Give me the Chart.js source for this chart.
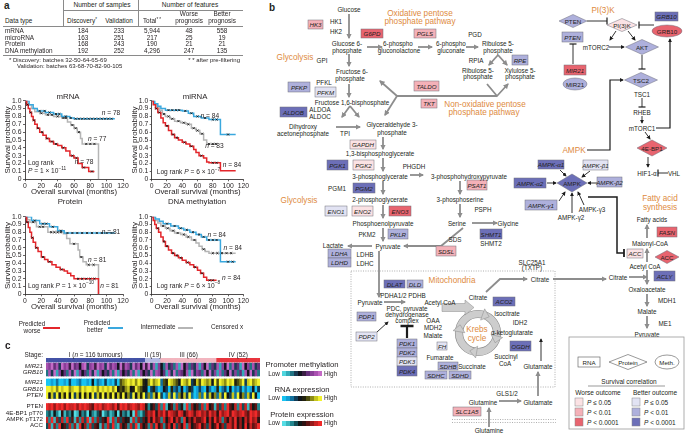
<!DOCTYPE html>
<html>
<head>
<meta charset="utf-8">
<script src="https://cdn.jsdelivr.net/npm/chart.js@4.4.1/dist/chart.umd.min.js"></script>
<style>
  html, body { margin: 0; padding: 0; background: #fff; }
  #page { position: relative; width: 685px; height: 433px; overflow: hidden; font-family: "Liberation Sans", Arial, sans-serif; color: #231f20; }
  .t { position: absolute; white-space: nowrap; line-height: 1; font-size: 6.4px; transform: translate(-50%, -50%); }
  .t.l { transform: translate(0, -50%); }
  .t.r { transform: translate(-100%, -50%); }
  .ln { position: absolute; background: #8a8a8a; }
  canvas { position: absolute; }
  sup { font-size: 70%; vertical-align: 0; position: relative; top: -0.45em; }
</style>
</head>
<body>
<div id="page">
  <svg id="path" width="685" height="433" style="position:absolute;left:0;top:0;font-family:'Liberation Sans',Arial,sans-serif"></svg>
  <canvas id="km-mrna" width="132" height="103" style="left:0;top:94px"></canvas>
  <canvas id="km-mirna" width="123" height="103" style="left:127px;top:94px"></canvas>
  <canvas id="km-protein" width="132" height="102" style="left:0;top:210px"></canvas>
  <canvas id="km-meth" width="123" height="102" style="left:127px;top:210px"></canvas>
  <canvas id="heat" width="214" height="71" style="left:46px;top:358px"></canvas>
</div>
<script>
// ═══════════════════════════════════════════════
// Panel a — sample / feature table
// ═══════════════════════════════════════════════
const dataTypes      = ['mRNA', 'microRNA', 'Protein', 'DNA methylation'];
const discovery      = [184, 163, 168, 192];
const validation     = [233, 251, 243, 252];
const totalFeatures  = ['5,944', '217', '190', '4,296'];
const worseFeatures  = [48, 25, 21, 247];
const betterFeatures = [558, 19, 21, 135];

// ═══════════════════════════════════════════════
// Panel a — Kaplan–Meier curves: [months, survival]
// ═══════════════════════════════════════════════
const mrnaWorse  = [[0,1],[2,.95],[4,.9],[6,.85],[8,.8],[10,.75],[12,.7],[15,.65],[18,.6],[22,.56],[26,.52],[30,.48],[35,.45],[40,.43],[45,.4],[50,.36],[55,.3],[60,.27],[65,.2],[70,.15],[78,.1],[85,.1]];
const mrnaBetter = [[0,1],[5,.95],[10,.9],[15,.87],[25,.85],[35,.83],[45,.8],[55,.78],[60,.77],[110,.77]];
const mrnaMiddle = [[0,1],[3,.95],[8,.9],[12,.86],[18,.84],[25,.82],[35,.8],[45,.78],[52,.73],[56,.69],[60,.65],[64,.6],[68,.52],[70,.45],[90,0]];
const mrnaWorseCens  = [3,7,11,16,21,27,33,38,47,58,63,72,82];
const mrnaBetterCens = [18,24,30,38,42,50,56,62,66,70,74,78,82,86,90,94,98,102,106];
const mrnaMiddleCens = [20,28,33,40,47,50,58,62,66,75,80,85];

const mirWorse  = [[0,1],[2,.95],[5,.9],[8,.85],[12,.78],[15,.72],[18,.68],[22,.62],[26,.57],[30,.53],[35,.5],[40,.47],[45,.45],[50,.42],[55,.38],[58,.34],[62,.3],[68,.27],[72,.22],[75,.21],[90,.11],[110,.11]];
const mirBetter = [[0,1],[4,.96],[8,.93],[12,.9],[18,.88],[40,.87],[48,.84],[55,.8],[65,.78],[75,.76],[90,.57],[110,.57]];
const mirMiddle = [[0,1],[3,.96],[6,.92],[10,.88],[14,.83],[18,.8],[24,.77],[30,.74],[38,.72],[45,.7],[52,.65],[58,.62],[63,.58],[68,.5],[72,.45],[85,.45]];
const mirWorseCens  = [6,10,20,28,33,43,52,65,80,85];
const mirBetterCens = [22,27,32,36,44,52,60,70,80,85,100];
const mirMiddleCens = [16,22,27,35,42,48,55,60,66,75,80,84];

const protWorse  = [[0,1],[2,.93],[4,.86],[6,.8],[8,.73],[10,.67],[13,.6],[16,.55],[20,.48],[24,.45],[28,.42],[33,.38],[38,.35],[43,.32],[48,.3],[52,.27],[56,.24],[60,.2],[90,0]];
const protBetter = [[0,1],[8,.95],[18,.91],[30,.87],[40,.82],[48,.79],[110,.79]];
const protMiddle = [[0,1],[3,.96],[6,.93],[14,.87],[28,.8],[47,.78],[51,.72],[55,.65],[65,.57],[67,.48],[71,.42],[75,.38],[90,0]];
const protWorseCens  = [3,9,14,22,30,45,65,70,75,80,85];
const protBetterCens = [12,22,26,34,44,52,58,64,70,76,82,88,94,100,106];
const protMiddleCens = [10,18,22,32,36,40,44,60,69,78,84];

const methWorse  = [[0,1],[2,.95],[4,.9],[6,.85],[9,.8],[12,.74],[15,.68],[18,.62],[22,.57],[26,.53],[30,.5],[35,.47],[40,.44],[45,.41],[50,.38],[55,.35],[60,.31],[64,.27],[68,.22],[72,.18],[85,.18]];
const methBetter = [[0,1],[5,.97],[10,.94],[15,.91],[25,.88],[35,.85],[42,.83],[50,.8],[58,.77],[65,.74],[72,.7],[90,.42],[110,.42]];
const methMiddle = [[0,1],[4,.95],[8,.92],[12,.88],[18,.85],[24,.82],[30,.79],[38,.77],[45,.74],[52,.7],[58,.66],[62,.62],[66,.58],[70,.55],[75,.53],[110,.53]];
const methWorseCens  = [8,16,20,28,33,38,47,57,66,76,80];
const methBetterCens = [20,30,38,46,54,62,68,75,80,85,100,106];
const methMiddleCens = [15,21,28,34,42,48,56,68,80,86,92,98,104];

const xTicks = [0, 20, 40, 60, 80, 100, 120];

// ═══════════════════════════════════════════════
// Panel c — heatmap (values 0-9, one column ≈ 3 tumours)
// ═══════════════════════════════════════════════
const stageNames  = ['I (<i>n</i> = 116 tumours)', 'II (19)', 'III (66)', 'IV (52)'];
const stageCounts = [116, 19, 66, 52];
const methMIR21 = '879683978596 748937859783 968749587396 849593817428 362819472638 174926381749 283619472836';
const methGRB10 = '283917462839 174628391746 382917463829 174639287461 839276481937 628493718264 937261849372';
const rnaMIR21  = '001020010300 120010402103 010306789897 985479789265 987649879358 698784969879 895679389789';
const rnaGRB10  = '998979899789 979899897989 897946578459 764403520143 052314025301 310420150230 402130201403';
const rnaPTEN   = '948394859493 849584938594 859485947394 859372849302 839274839201 729384728394 382947283940';
const protPTEN  = '989798979889 798987698978 987969897898 798524638291 462835192746 382946173829 648293817462';
const prot4EBP1 = '231420513240 152304213502 312405231408 213687958796 987698579868 978697859789 698789769897';
const protAMPK  = '829173829361 728391827364 918273645182 736485967284 795862947586 679485968275 869574869785';
const protACC   = '381729463827 194728365172 839217462839 174628395726 849375928467 957384695738 869574958679';

const methRamp = ['#4fd6de','#32aab8','#217484','#1b3a52','#121420','#3a1f44','#65307a','#8a3f98','#a951b0','#c46ac6'];
const rnaRamp  = ['#17c4f2','#139ed4','#12709c','#123e58','#11161c','#22220e','#4e4e10','#8c8c16','#c6c61e','#f2f22e'];
const protRamp = ['#55dde5','#3ab6be','#22868e','#134e56','#111818','#2e1212','#5e1414','#971a1a','#c92222','#f02a2a'];
const stageColors = ['#4352a6', '#b3b9e2', '#f2b5bf', '#e8343d'];

// ═══════════════════════════════════════════════
// helpers
// ═══════════════════════════════════════════════
const page = document.getElementById('page');
function txt(x, y, html, cls, css) {
  const d = document.createElement('div');
  d.className = 't ' + (cls || '');
  d.style.left = x + 'px'; d.style.top = y + 'px';
  if (css) d.style.cssText += css;
  d.innerHTML = html;
  page.appendChild(d);
}
function hline(x1, x2, y, c) { const d = document.createElement('div'); d.className = 'ln'; d.style.cssText = `left:${x1}px;top:${y}px;width:${x2 - x1}px;height:0.7px;background:${c || '#8a8a8a'}`; page.appendChild(d); }
function vline(x, y1, y2) { const d = document.createElement('div'); d.className = 'ln'; d.style.cssText = `left:${x}px;top:${y1}px;width:0.7px;height:${y2 - y1}px`; page.appendChild(d); }

// ---------- panel a table ----------
txt(4, 6, 'a', 'l', 'font-size:10px;font-weight:bold');
txt(102, 5, 'Number of samples', '', 'font-size:6.6px');
txt(190, 5, 'Number of features', '', 'font-size:6.6px');
vline(63, 0, 26); vline(138, 0, 26);
hline(63, 243, 9.5);
txt(5, 21, 'Data type', 'l');
txt(82, 21, 'Discovery<sup>*</sup>');
txt(119, 21, 'Validation');
txt(152, 21, 'Total<sup>* *</sup>');
txt(189, 14, 'Worse'); txt(189, 21, 'prognosis');
txt(222, 14, 'Better'); txt(222, 21, 'prognosis');
hline(3, 243, 26);
const rowY = [30.7, 37.7, 44.3, 51];
dataTypes.forEach((d, i) => {
  txt(5, rowY[i], d, 'l');
  txt(83, rowY[i], discovery[i]);
  txt(119, rowY[i], validation[i]);
  txt(152, rowY[i], totalFeatures[i]);
  txt(189, rowY[i], worseFeatures[i]);
  txt(222, rowY[i], betterFeatures[i]);
});
hline(3, 243, 54.5);
txt(9, 59.5, '* Discovery: batches 32-50-64-65-69', 'l', 'font-size:6px');
txt(17, 66, 'Validation: batches 63-68-70-82-90-105', 'l', 'font-size:6px');
txt(240, 59.5, '* * after pre-filtering', 'r', 'font-size:6px');

// ---------- panel a KM charts ----------
Chart.defaults.font.family = '"Liberation Sans", Arial, sans-serif';
Chart.defaults.color = '#231f20';
const RED = '#e3262b', BLUE = '#3aa8de', GRAY = '#b5b5b5';

function survivalAt(pts, t) {
  let s = pts[0][1];
  pts.forEach(p => { if (p[0] <= t) s = p[1]; });
  return s;
}

// rich text: segments [text, 'i' italic | 's' superscript | '']
function drawRich(ctx, x, y, segs, size) {
  let cx = x;
  segs.forEach(([t, st]) => {
    const fs = st === 's' ? size * 0.72 : size;
    ctx.font = `${st === 'i' ? 'italic ' : ''}${fs}px "Liberation Sans", Arial, sans-serif`;
    ctx.fillStyle = '#231f20';
    ctx.textBaseline = 'middle';
    ctx.fillText(t, cx, st === 's' ? y - size * 0.4 : y);
    cx += ctx.measureText(t).width;
  });
}
const nLab = n => [['n', 'i'], [' = ' + n, '']];

const kmNotes = {
  id: 'kmNotes',
  afterDatasetsDraw(chart, args, opts) {
    const { ctx, scales: { x, y } } = chart;
    ctx.save();
    (opts.notes || []).forEach(n => drawRich(ctx, x.getPixelForValue(n.t), y.getPixelForValue(n.s), n.seg, 6.6));
    ctx.restore();
  }
};

function kmChart(id, yWidth, padRight, curves, notes) {
  const datasets = [];
  curves.forEach(c => datasets.push({
    data: c.pts.map(([t, s]) => ({ x: t, y: s })),
    borderColor: c.color, borderWidth: 1.5, stepped: 'before',
    pointRadius: 0, fill: false, order: c.order
  }));
  curves.forEach(c => datasets.push({
    data: c.cens.map(t => ({ x: t, y: survivalAt(c.pts, t) })),
    showLine: false, pointStyle: 'crossRot', pointRadius: 1.5,
    borderColor: '#111', borderWidth: 0.8, order: 0
  }));
  return new Chart(document.getElementById(id), {
    type: 'line',
    data: { datasets },
    plugins: [kmNotes],
    options: {
      responsive: false, animation: false, events: [],
      layout: { autoPadding: false, padding: { top: 6.7, right: padRight, left: 0, bottom: 0 } },
      plugins: { legend: { display: false }, tooltip: { enabled: false }, kmNotes: { notes } },
      scales: {
        x: {
          type: 'linear', min: 0, max: 120,
          afterFit: s => { s.height = 17.7; },
          afterBuildTicks: s => { s.ticks = xTicks.map(v => ({ value: v })); },
          ticks: { font: { size: 6.8 }, padding: 1, maxRotation: 0, autoSkip: false, color: '#231f20' },
          grid: { drawOnChartArea: false, tickLength: 2, color: '#231f20', lineWidth: 0.7 },
          border: { color: '#231f20', width: 0.8 },
          title: { display: true, text: 'Overall survival (months)', font: { size: 7.8 }, padding: 0, color: '#231f20' }
        },
        y: {
          min: 0, max: 1,
          afterFit: s => { s.width = yWidth; },
          ticks: { stepSize: 0.1, font: { size: 6.8 }, padding: 1.5, autoSkip: false, color: '#231f20',
                   callback: v => Math.abs(v) < 1e-9 ? '0' : v.toFixed(1) },
          grid: { drawOnChartArea: false, tickLength: 2, color: '#231f20', lineWidth: 0.7 },
          border: { color: '#231f20', width: 0.8 },
          title: { display: true, text: 'Survival probability', font: { size: 8 }, padding: { top: 2.5, bottom: 0 }, color: '#231f20' }
        }
      }
    }
  });
}

kmChart('km-mrna', 25, 9, [
  { pts: mrnaWorse,  cens: mrnaWorseCens,  color: RED,  order: 1 },
  { pts: mrnaBetter, cens: mrnaBetterCens, color: BLUE, order: 2 },
  { pts: mrnaMiddle, cens: mrnaMiddleCens, color: GRAY, order: 3 }
], [
  { t: 94, s: 0.84, seg: nLab(78) }, { t: 77, s: 0.51, seg: nLab(77) }, { t: 61, s: 0.22, seg: nLab(78) },
  { t: 3.7, s: 0.2, seg: [['Log rank', '']] },
  { t: 3.7, s: 0.1, seg: [['P', 'i'], [' = 1 × 10', ''], ['−11', 's']] }
]);
kmChart('km-mirna', 24.7, 2.3, [
  { pts: mirWorse,  cens: mirWorseCens,  color: RED,  order: 1 },
  { pts: mirBetter, cens: mirBetterCens, color: BLUE, order: 2 },
  { pts: mirMiddle, cens: mirMiddleCens, color: GRAY, order: 3 }
], [
  { t: 64, s: 0.8, seg: nLab(84) }, { t: 70, s: 0.42, seg: nLab(83) }, { t: 93, s: 0.18, seg: nLab(84) },
  { t: 6.6, s: 0.09, seg: [['Log rank ', ''], ['P', 'i'], [' = 6 × 10', ''], ['−7', 's']] }
]);
kmChart('km-protein', 25, 9, [
  { pts: protWorse,  cens: protWorseCens,  color: RED,  order: 1 },
  { pts: protBetter, cens: protBetterCens, color: BLUE, order: 2 },
  { pts: protMiddle, cens: protMiddleCens, color: GRAY, order: 3 }
], [
  { t: 94, s: 0.8, seg: nLab(81) }, { t: 77, s: 0.44, seg: nLab(81) }, { t: 92, s: 0.11, seg: nLab(81) },
  { t: 3.7, s: 0.11, seg: [['Log rank ', ''], ['P', 'i'], [' = 1 × 10', ''], ['−10', 's']] }
]);
kmChart('km-meth', 24.7, 2.3, [
  { pts: methWorse,  cens: methWorseCens,  color: RED,  order: 1 },
  { pts: methBetter, cens: methBetterCens, color: BLUE, order: 2 },
  { pts: methMiddle, cens: methMiddleCens, color: GRAY, order: 3 }
], [
  { t: 73, s: 0.76, seg: nLab(84) }, { t: 94, s: 0.59, seg: nLab(84) }, { t: 92, s: 0.21, seg: nLab(84) },
  { t: 6.6, s: 0.11, seg: [['Log rank ', ''], ['P', 'i'], [' = 6 × 10', ''], ['−8', 's']] }
]);

txt(68, 97, 'mRNA', '', 'font-size:7.8px');
txt(195, 97, 'miRNA', '', 'font-size:7.8px');
txt(70, 202, 'Protein', '', 'font-size:7.8px');
txt(197, 202, 'DNA methylation', '', 'font-size:7.8px');

// KM legend
txt(32, 324, 'Predicted', '', 'font-size:6.3px'); txt(32, 331, 'worse', '', 'font-size:6.3px');
hline(43, 60, 326.5, RED); page.lastChild.style.height = '2.5px';
txt(97, 323, 'Predicted', '', 'font-size:6.3px'); txt(95, 330, 'better', '', 'font-size:6.3px');
hline(108, 123, 326.5, BLUE); page.lastChild.style.height = '2.5px';
txt(158, 327, 'Intermediate', '', 'font-size:6.3px');
hline(178, 193, 326.5, GRAY); page.lastChild.style.height = '2.5px';
txt(227, 327, 'Censored x', '', 'font-size:6.3px');

// ═══════════════════════════════════════════════
// Panel c — heatmap with Chart.js floating bars
// ═══════════════════════════════════════════════
const parseRow = s => s.replace(/\s/g, '').split('').map(Number);
const stageCols = stageCounts.map(n => Math.round(n / 3));
const stageOfCol = [];
stageCols.forEach((n, k) => { for (let i = 0; i < n; i++) stageOfCol.push(k); });
const nCols = stageOfCol.length;
const colLabels = stageOfCol.map((_, i) => i);

// rows listed top to bottom with their band [y0, y1] in chart units (71 = top)
const heatRows = [
  { band: [67, 71],      colors: stageOfCol.map(k => stageColors[k]) },
  { band: [59.5, 66],    colors: parseRow(methMIR21).map(v => methRamp[v]) },
  { band: [53, 59.5],    colors: parseRow(methGRB10).map(v => methRamp[v]) },
  { band: [43.5, 50],    colors: parseRow(rnaMIR21).map(v => rnaRamp[v]) },
  { band: [37, 43.5],    colors: parseRow(rnaGRB10).map(v => rnaRamp[v]) },
  { band: [30.5, 37],    colors: parseRow(rnaPTEN).map(v => rnaRamp[v]) },
  { band: [19, 25.5],    colors: parseRow(protPTEN).map(v => protRamp[v]) },
  { band: [12.5, 19],    colors: parseRow(prot4EBP1).map(v => protRamp[v]) },
  { band: [6.25, 12.5],  colors: parseRow(protAMPK).map(v => protRamp[v]) },
  { band: [0, 6.25],     colors: parseRow(protACC).map(v => protRamp[v]) }
];
new Chart(document.getElementById('heat'), {
  type: 'bar',
  data: {
    labels: colLabels,
    datasets: heatRows.map(r => ({ data: colLabels.map(() => r.band), backgroundColor: r.colors, borderWidth: 0 }))
  },
  options: {
    responsive: false, animation: false, events: [],
    layout: { padding: 0 },
    datasets: { bar: { grouped: false, categoryPercentage: 1, barPercentage: 1 } },
    plugins: { legend: { display: false }, tooltip: { enabled: false } },
    scales: { x: { display: false }, y: { display: false, min: 0, max: 71 } }
  }
});

txt(5, 346, 'c', 'l', 'font-size:10px;font-weight:bold');
txt(43, 354.5, 'Stage:', 'r', 'font-size:6.4px');
const stageCenters = [];
let acc = 46;
stageCols.forEach(n => { const w = n / nCols * 214; stageCenters.push(acc + w / 2); acc += w; });
stageNames.forEach((s, i) => txt(stageCenters[i], 354.5, s, '', 'font-size:6.4px'));
[['<i>MIR21</i>', 365.7], ['<i>GRB10</i>', 372.2], ['<i>MIR21</i>', 382.2], ['<i>GRB10</i>', 388.7], ['<i>PTEN</i>', 395.2],
 ['PTEN', 406.2], ['4E-BP1 pT70', 412.7], ['AMPK pT172', 419.1], ['ACC', 425]].forEach(([l, y]) => txt(43, y, l, 'r', 'font-size:6.2px'));

function rampBar(y, title, ramp) {
  txt(302, y, title, '', 'font-size:7.7px');
  txt(280, y + 8.5, 'Low', 'r', 'font-size:6.4px');
  const stops = ramp.map((c, i) => `${c} ${i * 10}%, ${c} ${(i + 1) * 10}%`).join(',');
  const d = document.createElement('div');
  d.style.cssText = `position:absolute;left:282px;top:${y + 6}px;width:40px;height:5px;background:linear-gradient(to right, ${stops})`;
  page.appendChild(d);
  txt(324, y + 8.5, 'High', 'l', 'font-size:6.4px');
}
rampBar(365, 'Promoter methylation', methRamp);
rampBar(389.5, 'RNA expression', rnaRamp);
rampBar(414.5, 'Protein expression', protRamp);

// ═══════════════════════════════════════════════
// Panel b — pathway diagram (SVG)
// ═══════════════════════════════════════════════
const LV = { r1: '#fbe2e4', r2: '#f4b1b8', r3: '#e8646f', b1: '#e2e3f3', b2: '#aeb0dc', b3: '#6c6fb8' };
const G = '#8d8d8d', K = '#1c1c1c', OR = '#de8a3e';
let svg = `<defs>
<marker id="hg" viewBox="0 0 10 10" refX="8" refY="5" markerWidth="5.5" markerHeight="5.5" markerUnits="userSpaceOnUse" orient="auto"><path d="M0,0L10,5L0,10z" fill="${G}"/></marker>
<marker id="hk" viewBox="0 0 10 10" refX="8" refY="5" markerWidth="4.2" markerHeight="4.2" markerUnits="userSpaceOnUse" orient="auto"><path d="M0,0L10,5L0,10z" fill="${K}"/></marker>
</defs>`;
const P = pts => pts.map(p => p.join(',')).join(' ');
function arrow(pts, col, w, head) {
  svg += `<polyline points="${P(pts)}" fill="none" stroke="${col}" stroke-width="${w}"${head ? ` marker-end="url(#${head})"` : ''}/>`;
}
function inhibit(pts, w, bar) {
  svg += `<polyline points="${P(pts)}" fill="none" stroke="${K}" stroke-width="${w}"/>`;
  const [x1, y1] = pts[pts.length - 2], [x2, y2] = pts[pts.length - 1];
  const L = Math.hypot(x2 - x1, y2 - y1), nx = -(y2 - y1) / L * bar / 2, ny = (x2 - x1) / L * bar / 2;
  svg += `<line x1="${x2 + nx}" y1="${y2 + ny}" x2="${x2 - nx}" y2="${y2 - ny}" stroke="${K}" stroke-width="${w + 0.3}"/>`;
}
function st(x, y, t, o = {}) {
  svg += `<text x="${x}" y="${y}" font-size="${o.size || 6.3}" fill="${o.color || '#231f20'}" text-anchor="${o.anchor || 'middle'}" dominant-baseline="central"${o.italic ? ' font-style="italic"' : ''}${o.bold ? ' font-weight="bold"' : ''}>${t}</text>`;
}

// mitochondria + membrane
svg += `<rect x="351" y="271" width="204" height="116" fill="none" stroke="#9a9a9a" stroke-width="0.8" stroke-dasharray="1 1.4"/>`;
svg += `<line x1="452" y1="419.5" x2="556" y2="419.5" stroke="#9a9a9a" stroke-width="0.8" stroke-dasharray="1 1.4"/>`;
svg += `<line x1="452" y1="422.5" x2="556" y2="422.5" stroke="#9a9a9a" stroke-width="0.8" stroke-dasharray="1 1.4"/>`;

// Krebs ring
svg += `<circle cx="478" cy="333" r="19" fill="none" stroke="#8a8a8a" stroke-width="8.2"/>`;
svg += `<circle cx="478" cy="333" r="19" fill="none" stroke="#cdcdcd" stroke-width="7"/>`;
[-70, 15, 100, 190].forEach(a => {
  const r = a * Math.PI / 180, c = Math.cos(r), s = Math.sin(r);
  const px = 478 + 19 * c, py = 333 + 19 * s, tx = -s, ty = c;
  const pts = [[px + 5 * tx, py + 5 * ty], [px - 2 * tx + 6 * c, py - 2 * ty + 6 * s], [px - 2 * tx - 6 * c, py - 2 * ty - 6 * s]];
  svg += `<polygon points="${P(pts)}" fill="#cdcdcd" stroke="#8a8a8a" stroke-width="0.5"/>`;
});
svg += `<polygon points="442,303.5 465,303.5 465,300 474,307.5 465,315 465,311.5 442,311.5" fill="#cdcdcd" stroke="#8a8a8a" stroke-width="0.5"/>`;

// metabolic (gray) arrows
[
  [[349,14],[349,38]], [[367,47],[382,47]], [[418,47],[432,47]], [[466,47],[478,47]],
  [[349,54],[349,66]], [[349,84],[349,97]], [[350,106],[342,117]], [[350,106],[359,117]],
  [[336,127],[360,127]], [[383,137],[383,149]], [[383,158],[383,171]], [[410,175],[423,175]],
  [[383,181],[383,194]], [[383,205],[383,218]], [[383,228],[383,241]], [[372,246],[348,246]],
  [[460,181],[460,194]], [[460,204],[460,217]], [[472,223],[497,223]], [[463,228],[441,246],[404,246]],
  [[379,251],[379,297]], [[384,302],[405,302]], [[486,292],[500,279],[527,279]], [[553,279],[606,279]],
  [[629,277],[647,277]], [[647,262],[647,249]], [[647,238],[647,225]], [[647,277],[647,284]],
  [[647,294],[647,306]], [[647,316],[647,328]], [[499,401],[521,401]], [[538,396],[538,372]],
  [[489,427],[489,408]], [[498,55],[489,65]], [[498,55],[507,65]], [[487,84],[497,96],[508,84]],
  [[397,96],[380,81]], [[397,96],[385,115]]
].forEach(p => arrow(p, G, 1.8, 'hg'));
arrow([[497,96],[397,96]], G, 1.8);
arrow([[647,277],[647,270]], G, 1.8);

// signalling (black) arrows
[
  [[616,31],[610,40]], [[628,31],[635,40]], [[609,47],[624,47]], [[642,116],[642,123]],
  [[645,132],[650,139]], [[648,157],[648,167]], [[560,170],[566,176]], [[590,171],[582,177]],
  [[547,183],[556,183]], [[597,183],[588,183]], [[559,201],[565,192]], [[584,205],[578,192]],
  [[572,213],[572,193]], [[377,332],[388,322]], [[541,361],[541,339]]
].forEach(p => arrow(p, K, 0.9, 'hk'));
arrow([[656,128],[670,128],[670,39]], K, 1.2, 'hk');
arrow([[587,150],[610,150],[610,80],[623,80]], K, 1.2, 'hk');

inhibit([[587,21],[607,21]], 0.9, 7);
inhibit([[654,25],[639,25]], 0.9, 7);
inhibit([[573,64],[573,44]], 0.9, 7);
inhibit([[642,55],[642,69]], 0.9, 7);
inhibit([[642,98],[642,107]], 0.9, 7);
inhibit([[668,173],[658,173]], 0.9, 7);
inhibit([[588,197],[617,197],[617,253],[624,253]], 1.5, 8);
inhibit([[407,338],[407,326]], 2.2, 13);

// gene boxes [label, x, y, w, h, level]
const geneBoxes = [
  ['HK3',308,20,15,9,'r2'], ['G6PD',361,29,22,9,'r3'], ['PGLS',414,29,22,9,'r2'],
  ['PFKP',288,82,22,10,'b2'], ['PFKM',315,87,21,10,'b1'], ['ALDOB',280,107,27,10,'b3'],
  ['TALDO',414,81,25,10,'r2'], ['TKT',421,99,16,9,'r2'], ['RPE',512,55,16,10,'b2'],
  ['GAPDH',350,140,26,9,'r1'], ['PGK1',327,160,21,10,'b3'], ['PGK2',353,160,21,10,'r1'],
  ['PGM2',353,183,22,10,'b3'], ['PSAT1',467,180,20,10,'r2'], ['ENO1',325,206,22,10,'b1'],
  ['ENO2',352,206,21,10,'r1'], ['ENO3',389,206,22,10,'r3'], ['PKLR',388,229,20,10,'b2'],
  ['SDSL',436,246,20,10,'r2'], ['LDHA',328,249,23,9,'b2'], ['LDHD',328,258,23,9,'b2'],
  ['SHMT1',480,229,22,10,'b3'], ['DLAT',384,280,21,8,'b3'], ['DLD',407,280,16,8,'b2'],
  ['PDP1',357,312,19,9,'b2'], ['PDP2',356,332,21,9,'b1'], ['PDK1',397,339,20,9,'b2'],
  ['PDK2',397,348,20,9,'b2'], ['PDK3',397,357,20,9,'b1'], ['PDK4',397,366,20,10,'b3'],
  ['FH',437,342,10,8,'b1'], ['SDHB',438,362,20,8,'b2'], ['SDHC',425,371,22,8,'b2'],
  ['SDHD',449,371,22,8,'b2'], ['ACO2',493,297,22,9,'b3'], ['OGDH',510,341,21,10,'b3'],
  ['SLC1A5',453,407,28,9,'r2'], ['PTEN',562,32,21,10,'b2'], ['GRB10',655,12,23,9,'b3'],
  ['MIR21',564,65,22,10,'r3'], ['AMPK-α1',538,160,26,9,'b3'], ['AMPK-β1',583,160,25,10,'b1'],
  ['AMPK-α2',514,178,32,10,'b3'], ['AMPK-β2',597,177,25,10,'b2'], ['AMPK-γ1',525,200,32,10,'b2'],
  ['ACC',627,249,16,9,'r1'], ['FASN',657,227,20,10,'r3'], ['ACLY',654,271,21,10,'b3']
];
geneBoxes.forEach(([l, x, y, w, h, lv]) => {
  svg += `<rect x="${x}" y="${y}" width="${w}" height="${h}" fill="${LV[lv]}" stroke="#6f6f7a" stroke-width="0.5"/>`;
  st(x + w / 2, y + h / 2 + 0.3, l, { italic: true, size: 6.2 });
});
// protein diamonds [label, cx, cy, w, h, level]
[
  ['PTEN',573,21,28,13,'b2'], ['PI(3)K',622,25,30,13,'r1'], ['AKT',642,47,33,15,'b2'],
  ['TSC2',641,80,33,15,'b2'], ['4E-BP1',652,148,30,16,'r3'], ['AMPK',572,183,30,18,'b3'],
  ['ACC',667,257,24,13,'r3']
].forEach(([l, x, y, w, h, lv]) => {
  svg += `<polygon points="${x - w / 2},${y} ${x},${y - h / 2} ${x + w / 2},${y} ${x},${y + h / 2}" fill="${LV[lv]}" stroke="#6f6f7a" stroke-width="0.5"/>`;
  st(x, y + 0.3, l, { size: 6.2 });
});
// methylation ellipses
[['GRB10',667,31,15,6,'r3'], ['MIR21',575,84,12,6,'b2']].forEach(([l, x, y, rx, ry, lv]) => {
  svg += `<ellipse cx="${x}" cy="${y}" rx="${rx}" ry="${ry}" fill="${LV[lv]}" stroke="#6f6f7a" stroke-width="0.5"/>`;
  st(x, y + 0.3, l, { size: 6.2 });
});

// metabolite / enzyme labels
[
  [349,9,'Glucose'], [336,21,'HK1'], [336,31,'HK2'], [347,43,'Glucose 6-'], [347,50,'phosphate'],
  [398,43,'6-phospho'], [399,50,'gluconolactone'], [451,43,'6-phospho'], [451,50,'gluconate'],
  [475,34,'PGD'], [498,43,'Ribulose 5-'], [498,50,'phosphate'], [476,60,'RPIA'],
  [478,70,'Ribulose 5-'], [478,76,'phosphate'], [520,70,'Xylulose 5-'], [520,76,'phosphate'],
  [322,60,'GPI'], [352,71,'Fructose 6-'], [350,78,'phosphate'], [324,82,'PFKL'],
  [352,102,'Fructose 1,6-bisphosphate'], [320,109,'ALDOA'], [320,116,'ALDOC'],
  [303,126,'Dihydroxy'], [303,133,'acetonephosphate'], [345,133,'TPI'],
  [392,124,'Glyceraldehyde 3-'], [392,132,'phosphate'], [380,153,'1,3-bisphosphoglycerate'],
  [414,166,'PHGDH'], [380,176,'3-phosphoglycerate'], [469,176,'3-phosphohydroxypyruvate'],
  [337,188,'PGM1'], [380,199,'2-phosphoglycerate'], [460,199,'3-phosphoserine'], [483,209,'PSPH'],
  [383,223,'Phosphoenolpyruvate'], [457,223,'Serine'], [508,223,'Glycine'], [367,234,'PKM2'],
  [455,239,'SDS'], [491,243,'SHMT2'], [333,245,'Lactate'], [388,246,'Pyruvate'],
  [365,254,'LDHB'], [365,263,'LDHC'], [532,262,'SLC25A1'], [532,267.5,'(TXTP)'],
  [540,279,'Citrate'], [618,277,'Citrate'], [403,295,'PDHA1/2 PDHB'], [370,302,'Pyruvate'],
  [440,302,'Acetyl CoA'], [478,297,'Citrate'], [407,308,'PDC, pyruvate'], [407,314,'dehydrogenase'],
  [407,320.5,'complex'], [507,313,'Isocitrate'], [433,320,'OAA'], [433,327.5,'MDH2'], [433,335,'Malate'],
  [520,322,'IDH2'], [512,332,'α-ketoglutarate'], [440,357,'Fumarate'], [506,356,'Succinyl'],
  [505,363,'CoA'], [472,366,'Succinate'], [538,366,'Glutamate'], [507,393,'GLS1/2'],
  [483,402,'Glutamine'], [538,402,'Glutamate'], [489,430,'Glutamine'],
  [596,47,'mTORC2'], [642,94,'TSC1'], [642,112,'RHEB'], [642,128,'mTORC1'],
  [647,173,'HIF1-α'], [674,173,'VHL'], [592,209,'AMPK-γ3'], [571,217,'AMPK-γ2'],
  [652,219,'Fatty acids'], [650,243,'Malonyl-CoA'], [645,266,'Acetyl CoA'], [647,289,'Oxaloacetate'],
  [667,300,'MDH1'], [647,311,'Malate'], [665,323,'ME1'], [647,334,'Pyruvate']
].forEach(([x, y, t]) => st(x, y, t));

// pathway section titles
[
  [420,13,'Oxidative pentose'], [420,21.5,'phosphate pathway'], [295,57,'Glycolysis'],
  [485,104,'Non-oxidative pentose'], [484,112.5,'phosphate pathway'], [299,200,'Glycolysis'],
  [603,10,'PI(3)K'], [574,150,'AMPK'], [660,198,'Fatty acid'], [660,207,'synthesis'],
  [452,280,'Mitochondria'], [477,329,'Krebs'], [477,338,'cycle']
].forEach(([x, y, t]) => st(x, y, t, { color: OR, size: 8.2 }));
st(272, 7, 'b', { bold: true, size: 10 });

// legend box
svg += `<rect x="569" y="337" width="115" height="92" fill="#fff" stroke="#9a9a9a" stroke-width="0.8"/>`;
svg += `<rect x="578" y="357" width="22" height="10" fill="#fff" stroke="#555" stroke-width="0.6"/>`;
st(589, 362.3, 'RNA', { size: 6.2 });
svg += `<polygon points="609,362 628,354.5 647,362 628,369.5" fill="#fff" stroke="#555" stroke-width="0.6"/>`;
st(628, 362.3, 'Protein', { size: 6.2 });
svg += `<ellipse cx="667" cy="362" rx="12" ry="7" fill="#fff" stroke="#555" stroke-width="0.6"/>`;
st(667, 362.3, 'Meth.', { size: 6.2 });
st(629, 381, 'Survival correlation', { size: 6.5 });
svg += `<line x1="588" y1="386" x2="665" y2="386" stroke="#555" stroke-width="0.6"/>`;
st(598, 392, 'Worse outcome', { size: 6.5 });
st(655, 392, 'Better outcome', { size: 6.5 });
const pTexts = ['≤ 0.05', '< 0.01', '< 0.0001'];
[['r1', 'b1'], ['r2', 'b2'], ['r3', 'b3']].forEach(([r, b], i) => {
  const y = 398 + i * 10;
  svg += `<rect x="575" y="${y}" width="8" height="8" fill="${LV[r]}" stroke="#888" stroke-width="0.5"/>`;
  svg += `<rect x="632" y="${y}" width="8" height="8" fill="${LV[b]}" stroke="#888" stroke-width="0.5"/>`;
  st(587, y + 4.3, `<tspan font-style="italic">P</tspan> ${pTexts[i]}`, { anchor: 'start', size: 6.5 });
  st(644, y + 4.3, `<tspan font-style="italic">P</tspan> ${pTexts[i]}`, { anchor: 'start', size: 6.5 });
});

document.getElementById('path').innerHTML = svg;
</script>
</body>
</html>
